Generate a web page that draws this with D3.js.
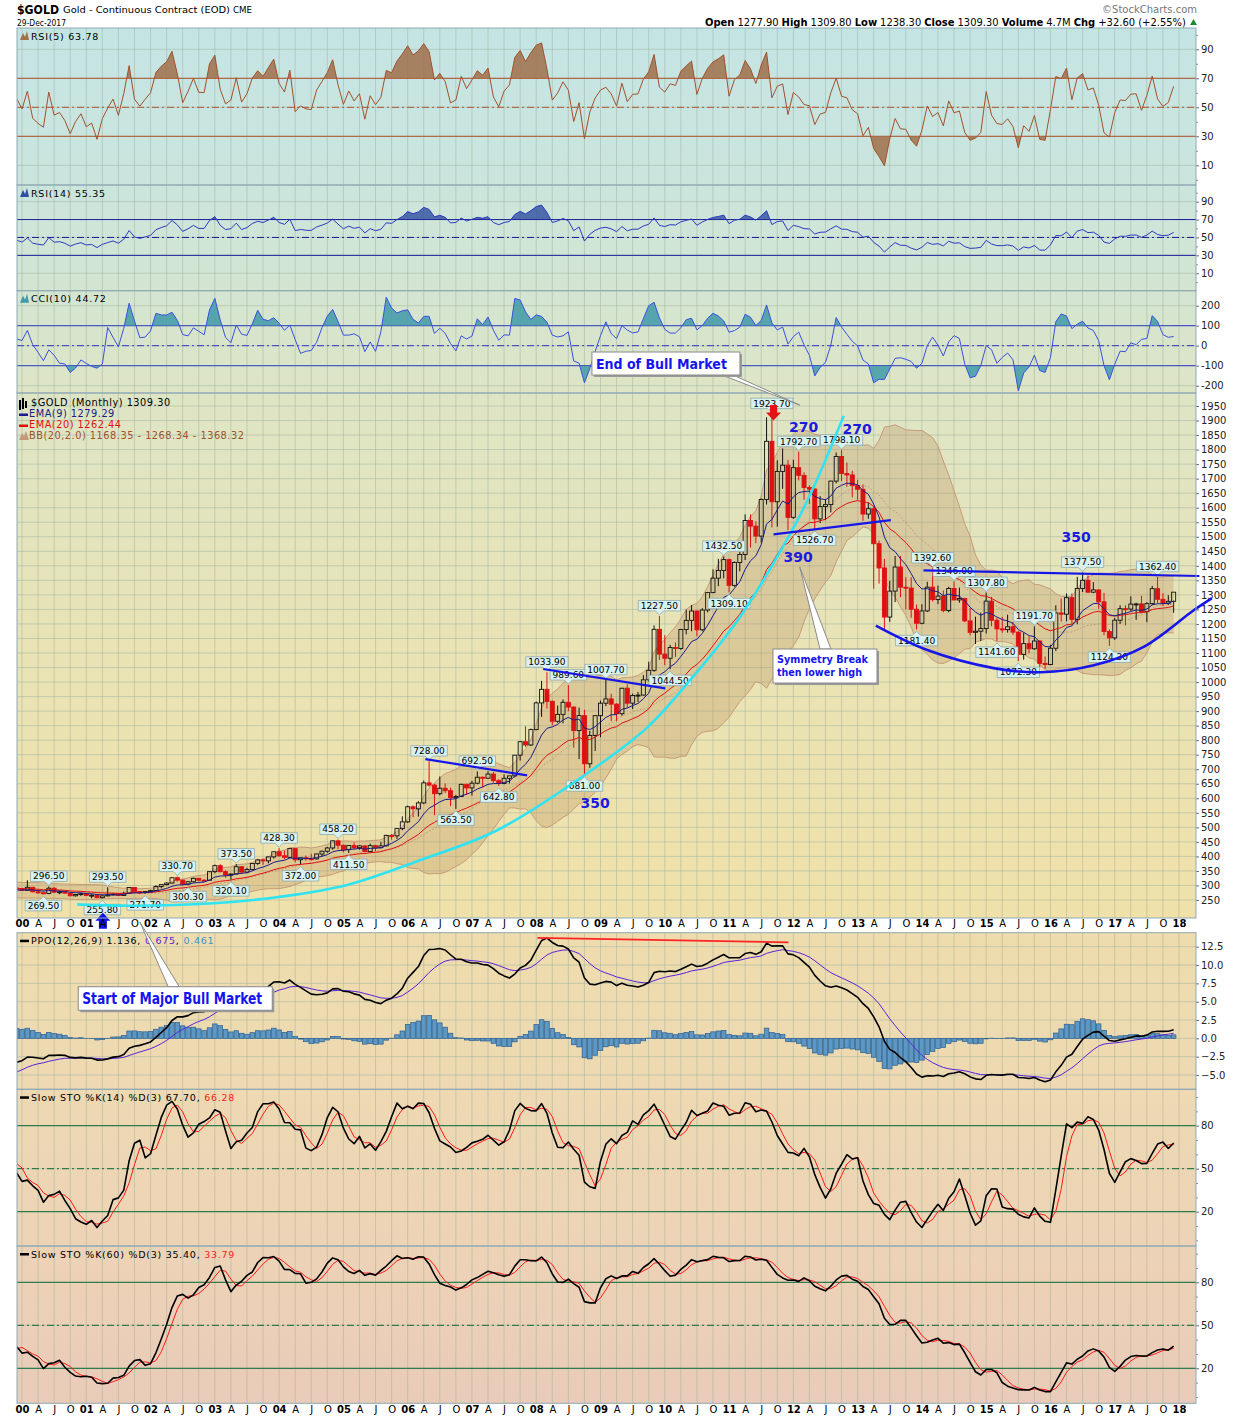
<!DOCTYPE html>
<html>
<head>
<meta charset="utf-8">
<script src="https://cdn.jsdelivr.net/npm/d3@7"></script>
<style>
  body { margin: 0; background: #fff; }
  text { font-family: "DejaVu Sans", Verdana, sans-serif; }
</style>
</head>
<body>
<div id="chart"></div>
<script>
// $GOLD monthly, Jan 1997 .. Dec 2017. 1997-1999 only warms up the indicators.
const firstYear = 1997;
const closes = [
  345.5, 358.6, 348.2, 340.2, 345.6, 334.6, 326.4, 325.4, 332.1, 311.4, 296.8, 290.2,
  304.5, 297.4, 301.0, 310.3, 293.6, 296.3, 288.9, 273.4, 293.9, 292.3, 294.7, 288.3,
  287.3, 288.0, 279.5, 286.6, 268.6, 261.5, 255.6, 254.8, 299.1, 299.1, 291.4, 288.7,
  283.3, 293.7, 278.4, 274.8, 272.3, 290.6, 276.8, 278.3, 273.6, 264.5, 269.1, 272.0,
  265.6, 266.7, 258.0, 264.0, 267.5, 270.6, 265.5, 273.0, 293.1, 279.0, 275.4, 279.0,
  282.3, 296.5, 303.0, 308.2, 326.6, 318.5, 304.7, 312.8, 324.5, 318.0, 317.9, 347.6,
  368.1, 347.5, 335.9, 339.4, 364.5, 346.0, 354.8, 375.6, 388.0, 384.7, 398.4, 416.1,
  402.2, 396.8, 426.8, 388.5, 395.2, 392.2, 391.6, 408.3, 417.8, 429.1, 453.7, 438.4,
  423.2, 437.3, 429.9, 436.3, 416.5, 437.1, 430.0, 436.4, 472.3, 470.8, 495.7, 518.9,
  570.8, 563.7, 584.0, 653.0, 645.4, 616.0, 634.6, 626.2, 602.2, 606.2, 648.2, 635.7,
  652.0, 672.4, 669.0, 683.5, 660.7, 651.2, 668.7, 677.1, 748.3, 794.8, 783.5, 836.5,
  928.2, 975.0, 933.5, 865.1, 888.7, 930.3, 914.0, 833.0, 884.5, 718.8, 816.2, 884.3,
  927.3, 942.0, 924.0, 891.2, 978.8, 927.4, 953.7, 955.2, 1007.7, 1040.4, 1181.5, 1096.2,
  1081.9, 1118.9, 1115.5, 1180.7, 1212.2, 1244.5, 1180.0, 1247.8, 1307.8, 1357.6, 1384.1, 1421.4,
  1332.8, 1411.3, 1439.0, 1556.0, 1536.6, 1502.3, 1628.3, 1828.5, 1620.4, 1724.9, 1746.4, 1566.8,
  1737.8, 1711.3, 1669.3, 1664.0, 1561.6, 1604.2, 1610.6, 1691.5, 1776.1, 1717.5, 1712.7, 1675.8,
  1663.4, 1578.1, 1596.7, 1476.1, 1392.6, 1223.7, 1313.0, 1395.8, 1326.5, 1323.6, 1250.6, 1202.3,
  1244.8, 1326.5, 1283.8, 1295.9, 1246.0, 1322.0, 1282.6, 1287.4, 1210.5, 1171.1, 1175.0, 1184.1,
  1278.5, 1212.6, 1183.1, 1180.3, 1190.3, 1171.8, 1094.9, 1132.3, 1114.5, 1141.3, 1064.3, 1060.2,
  1116.4, 1237.8, 1233.5, 1290.5, 1215.6, 1322.2, 1350.2, 1309.3, 1317.1, 1276.2, 1173.8, 1152.0,
  1212.8, 1252.6, 1251.2, 1268.3, 1268.9, 1242.3, 1269.9, 1321.4, 1284.8, 1271.1, 1277.9, 1309.3
];
const highs = [
  369, 366, 356, 350, 350, 348, 335, 330, 338, 336, 313, 300,
  306, 305, 303, 316, 312, 300, 298, 289, 301, 302, 299, 297,
  292, 290, 291, 292, 290, 270, 263, 259, 304, 339, 300, 292,
  292, 318, 295, 286, 279, 296.5, 294, 282, 280, 275, 270, 275,
  274, 270, 268, 266, 293.5, 274, 271, 279, 294, 293.4, 281, 280,
  285, 301, 304, 311, 328, 330.7, 320, 315, 327, 325, 322, 349,
  372, 373, 352, 341, 373.5, 366, 361, 376, 392, 392, 399, 417,
  428.3, 420, 428, 427, 396, 403, 409, 410, 420, 433, 455, 458.2,
  441, 439, 448, 438, 437, 444, 440, 450, 475, 477, 497, 538,
  575, 575, 590, 661, 728, 650, 675, 651, 637, 612, 650, 650,
  660, 692.5, 675, 693, 691, 666, 682, 678, 748.5, 797, 848, 840,
  933, 1004, 1033.9, 937, 919, 940, 989.6, 916, 912, 905, 832, 886,
  936, 1007.7, 960, 927, 980, 992, 960, 966, 1024, 1070, 1195, 1227.5,
  1161, 1128, 1136, 1183, 1249, 1265, 1246, 1254, 1310, 1388, 1424, 1432.5,
  1425, 1415, 1448, 1577, 1577, 1553, 1632, 1911, 1923.7, 1763, 1804, 1764,
  1765, 1792.7, 1722, 1677, 1668, 1640, 1630, 1693, 1790, 1798.1, 1755, 1727,
  1696, 1680, 1617, 1605, 1487, 1424, 1348, 1433.8, 1434, 1361, 1361, 1267,
  1268, 1345, 1392.6, 1332, 1315, 1328, 1346, 1325, 1290, 1255, 1225, 1239,
  1307.8, 1293, 1221, 1224, 1232, 1206, 1175, 1170, 1157, 1191.7, 1143, 1088,
  1128, 1264, 1287, 1305, 1305, 1362, 1377.5, 1367, 1344, 1319, 1307, 1181,
  1221, 1264, 1264, 1295, 1273, 1297, 1275, 1331, 1362.4, 1306, 1299, 1309.8
];
const lows = [
  344, 341, 346, 336, 337, 334, 318, 319, 321, 307, 294, 284,
  278, 293, 293, 298, 290, 288, 287, 272, 272, 289, 290, 286,
  284, 285, 278, 280, 268, 257, 253, 252, 255, 296, 290, 279,
  281, 283, 276, 271, 269.5, 270, 275, 270, 271, 263, 262, 264,
  263, 256, 256, 255.8, 263, 266, 264, 264, 271, 276, 270, 271.7,
  276, 282, 290, 300, 306, 313, 301, 300.3, 311, 314, 315, 317,
  342, 345, 327, 320.1, 337, 341, 342, 351, 371, 371, 376, 393,
  399, 390, 394, 380, 372, 385, 386, 389, 400, 412, 423, 425,
  414, 411.5, 424, 423, 415, 414, 418, 428, 434, 458, 460, 490,
  515, 535, 537, 580, 640, 542, 610, 618, 573, 563.5, 605, 612,
  609, 648, 637, 667, 653, 642.8, 648, 651, 672, 730, 777, 780,
  834, 880, 909, 851, 860, 858, 900, 774, 735, 681, 705, 763,
  810, 917, 866, 865, 884, 911, 907, 931, 953, 1002, 1035, 1076,
  1058, 1044.5, 1086, 1111, 1164, 1175, 1157, 1175, 1240, 1306, 1330, 1357,
  1309.1, 1328, 1381, 1420, 1463, 1478, 1480, 1611, 1532, 1535, 1665, 1523,
  1562, 1694, 1627, 1613, 1526.7, 1547, 1557, 1584, 1684, 1692, 1672, 1636,
  1627, 1555, 1562, 1321, 1339, 1180.5, 1207, 1275, 1292, 1251, 1221, 1181.4,
  1199, 1241, 1277, 1268, 1240, 1240, 1281, 1273, 1206, 1161, 1131, 1141,
  1167, 1192, 1141.6, 1170, 1170, 1162, 1072.3, 1077, 1099, 1111, 1052, 1045,
  1058, 1107, 1208, 1209, 1200, 1199, 1310, 1306, 1306, 1252, 1161, 1124.3,
  1145, 1200, 1195, 1244, 1214, 1237, 1206, 1265, 1271, 1262, 1265, 1238.3
];

// axis labels
const yearLabels = ["00","01","02","03","04","05","06","07","08","09","10","11","12","13","14","15","16","17","18"];
const quarterLetters = ["A", "J", "O"];
const priceTicks = [250,300,350,400,450,500,550,600,650,700,750,800,850,900,950,1000,1050,1100,1150,1200,
  1250,1300,1350,1400,1450,1500,1550,1600,1650,1700,1750,1800,1850,1900,1950];
const rsiTicks = [10, 30, 50, 70, 90];
const rsiMinor = [0, 20, 40, 60, 80, 100];
const cciTicks = [-200, -100, 0, 100, 200];
const ppoTicks = [-5, -2.5, 0, 2.5, 5, 7.5, 10, 12.5];
const stoTicks = [20, 50, 80];
const stoMinor = [0, 10, 30, 40, 60, 70, 90, 100];

// swing labels: month (0 = Jan 2000), text, h = above high / l = below low
const labelMonths = [5,4,16,15,23,29,31,40,39,48,52,59,61,76,81,85,89,98,102,105,109,119,121,131,132,140,145,148,153,167,170,174,180,182,186,189,198,203,212];
const labelValues = ["296.50","269.50","293.50","255.80","271.70","330.70","300.30","373.50","320.10","428.30","372.00","458.20","411.50",
  "728.00","563.50","692.50","642.80","1033.90","989.60","681.00","1007.70","1227.50","1044.50","1432.50","1309.10","1923.70",
  "1792.70","1526.70","1798.10","1181.40","1392.60","1346.00","1307.80","1141.60","1072.30","1191.70","1377.50","1124.30","1362.40"];
const labelKinds = "hlhllhlhlhlhlhlhlhhlhhlhlhhlhlhhhllhhlh".split("");

// hand-drawn annotations, in (month, price)
const cyanCurve = [[10.3,235],[20.8,230],[35.7,238.6],[48.2,261],[60.7,301.6],[74.4,387.6],[88.8,491],[105.6,687],
  [116.8,845],[124.3,997],[133.6,1213],[143.5,1513],[147.8,1671],[153.4,1916]];
const blueLines = [
  [[75.3,735],[94.3,679]],
  [[97.3,1045],[120.1,978]],
  [[140.3,1508],[162.2,1557]],
  [[168.3,1384],[219.8,1365]]
];
const blueArc = [[159.4,1194],[169,1110],[181.4,1048],[190.2,1034],[200.1,1058],[209.5,1122],[218.8,1248],[222.1,1288]];
const ppoRedLine = [[96.2,13.7],[143.1,13.1]];
const bigNumbers = [["270",145.9,1878],["270",155.9,1872],["390",144.9,1430],["350",107,584],["350",196.8,1499]];

// legend values as printed
const headerStats = [["Open","1277.90"],["High","1309.80"],["Low","1238.30"],["Close","1309.30"],["Volume","4.7M"],["Chg","+32.60 (+2.55%)"]];

const W = 1240, H = 1419, PL = 17, PR = 1196;
const off = (2000 - firstYear) * 12;
const opens = closes.map((c, j) => j ? closes[j - 1] : c);
const SANS = "Liberation Sans, Arial, sans-serif";

// ---------- indicators ----------
function sma(vals, p) {
  return vals.map((v, j) => {
    if (j < p - 1) return null;
    const w = vals.slice(j - p + 1, j + 1);
    if (w.some(u => u == null)) return null;
    return d3.mean(w);
  });
}
function ema(vals, p) {
  const out = vals.map(() => null), k = 2 / (p + 1);
  const s = vals.findIndex(v => v != null);
  if (s < 0 || s + p > vals.length) return out;
  let e = d3.mean(vals.slice(s, s + p));
  out[s + p - 1] = e;
  for (let j = s + p; j < vals.length; j++) { e = vals[j] * k + e * (1 - k); out[j] = e; }
  return out;
}
function rsi(p) {
  const out = closes.map(() => null);
  let g = 0, l = 0;
  for (let j = 1; j <= p; j++) { const d = closes[j] - closes[j - 1]; if (d > 0) g += d; else l -= d; }
  g /= p; l /= p;
  out[p] = l === 0 ? 100 : 100 - 100 / (1 + g / l);
  for (let j = p + 1; j < closes.length; j++) {
    const d = closes[j] - closes[j - 1];
    g = (g * (p - 1) + Math.max(d, 0)) / p;
    l = (l * (p - 1) + Math.max(-d, 0)) / p;
    out[j] = l === 0 ? 100 : 100 - 100 / (1 + g / l);
  }
  return out;
}
function cci(p) {
  const tp = closes.map((c, j) => (highs[j] + lows[j] + c) / 3);
  return tp.map((t, j) => {
    if (j < p - 1) return null;
    const w = tp.slice(j - p + 1, j + 1), m = d3.mean(w);
    const md = d3.mean(w, u => Math.abs(u - m));
    return (t - m) / (0.015 * md);
  });
}
function slowSto(p) {
  const fast = closes.map((c, j) => {
    const a = Math.max(0, j - p + 1);
    const hh = d3.max(highs.slice(a, j + 1)), ll = d3.min(lows.slice(a, j + 1));
    return (c - ll) / (hh - ll) * 100;
  });
  const k = sma(fast, 3);
  return { k, d: sma(k, 3) };
}

const rsi5 = rsi(5), rsi14 = rsi(14), cci10 = cci(10);
const ema9 = ema(closes, 9), ema20 = ema(closes, 20);
const bbMid = sma(closes, 20);
const bbDev = closes.map((c, j) => {
  if (j < 19) return null;
  const w = closes.slice(j - 19, j + 1), m = d3.mean(w);
  return Math.sqrt(d3.mean(w, u => (u - m) * (u - m)));
});
const bbUp = bbMid.map((m, j) => m == null ? null : m + 2 * bbDev[j]);
const bbLo = bbMid.map((m, j) => m == null ? null : m - 2 * bbDev[j]);
const e12 = ema(closes, 12), e26 = ema(closes, 26);
const ppo = closes.map((c, j) => e26[j] == null ? null : (e12[j] - e26[j]) / e26[j] * 100);
const ppoSig = ema(ppo, 9);
const ppoHist = ppo.map((v, j) => ppoSig[j] == null ? null : v - ppoSig[j]);
const sto14 = slowSto(14), sto60 = slowSto(60);

const pts = arr => arr.map((v, j) => ({ m: j - off, v })).filter(d => d.m >= -2);

// ---------- svg ----------
const svg = d3.select("#chart").append("svg").attr("width", W).attr("height", H);
const defs = svg.append("defs");
let clipN = 0;
function clipRect(x0, y0, w, h) {
  const id = "c" + (clipN++);
  defs.append("clipPath").attr("id", id).append("rect").attr("x", x0).attr("y", y0).attr("width", w).attr("height", h);
  return `url(#${id})`;
}
const grad = defs.append("linearGradient").attr("id", "bg").attr("gradientUnits", "userSpaceOnUse")
  .attr("x1", 0).attr("x2", 0).attr("y1", 28).attr("y2", 1403);
[[28,"#c4e4e4"],[185,"#cbe5dd"],[290,"#d3e5d1"],[393,"#dee5c5"],[650,"#e9e3b5"],[918,"#f0e1a9"],
 [933,"#eedcad"],[1089,"#eed9b2"],[1246,"#edd3b6"],[1403,"#e9cbb9"]].forEach(s =>
  grad.append("stop").attr("offset", (s[0] - 28) / 1375).attr("stop-color", s[1]));

const x = d3.scaleLinear().domain([-0.934, 219.17]).range([PL, PR]);
const quarterMonths = d3.range(0, 217, 3);

const P = {
  rsi5:  { top: 28,    bottom: 185,    y: d3.scaleLinear().domain([0, 100]).range([179.8, 34.8]),  ticks: rsiTicks, minor: rsiMinor },
  rsi14: { top: 185,   bottom: 290.7,  y: d3.scaleLinear().domain([0, 100]).range([282.2, 192.7]), ticks: rsiTicks, minor: rsiMinor },
  cci:   { top: 290.7, bottom: 393,    y: d3.scaleLinear().domain([-200, 200]).range([385.7, 305.7]), ticks: cciTicks, minor: [] },
  main:  { top: 393,   bottom: 918,    y: d3.scaleLinear().domain([250, 1950]).range([900, 406]),   ticks: priceTicks, minor: [] },
  ppo:   { top: 932.7, bottom: 1089.3, y: d3.scaleLinear().domain([-5, 12.5]).range([1075, 946.7]), ticks: ppoTicks, minor: [], fmt: d3.format(".1f") },
  sto14: { top: 1089.3, bottom: 1246,  y: d3.scaleLinear().domain([20, 80]).range([1211.7, 1125.7]), ticks: stoTicks, minor: stoMinor },
  sto60: { top: 1246,  bottom: 1403.3, y: d3.scaleLinear().domain([20, 80]).range([1368.3, 1282.3]), ticks: stoTicks, minor: stoMinor }
};

function buildPanel(p) {
  const g = svg.append("g");
  g.append("rect").attr("x", PL).attr("y", p.top).attr("width", PR - PL).attr("height", p.bottom - p.top).attr("fill", "url(#bg)");
  g.append("g").selectAll("line").data(quarterMonths).join("line")
    .attr("x1", d => x(d)).attr("x2", d => x(d)).attr("y1", p.top).attr("y2", p.bottom)
    .attr("stroke", "#9fb39f").attr("stroke-opacity", 0.5);
  g.append("g").selectAll("line").data(p.ticks).join("line")
    .attr("x1", PL).attr("x2", PR).attr("y1", d => p.y(d)).attr("y2", d => p.y(d))
    .attr("stroke", "#9fb39f").attr("stroke-opacity", 0.5);
  p.g = g;
  p.inner = g.append("g").attr("clip-path", clipRect(PL, p.top, PR - PL, p.bottom - p.top));
  const ax = svg.append("g").attr("transform", `translate(${PR},0)`)
    .call(d3.axisRight(p.y).tickValues(p.ticks).tickSize(3).tickPadding(2).tickFormat(p.fmt || (d => d)));
  ax.select(".domain").remove();
  ax.selectAll("text").attr("font-family", SANS).attr("font-size", 10).attr("fill", "#222");
  ax.selectAll("line").attr("stroke", "#667");
  if (p.minor.length) {
    const mx = svg.append("g").attr("transform", `translate(${PR},0)`)
      .call(d3.axisRight(p.y).tickValues(p.minor.filter(v => p.y(v) > p.top && p.y(v) < p.bottom)).tickSize(2).tickFormat(""));
    mx.select(".domain").remove();
    mx.selectAll("line").attr("stroke", "#889");
  }
}
Object.values(P).forEach(buildPanel);

function hline(p, v, color, dash) {
  p.inner.append("line").attr("x1", PL).attr("x2", PR).attr("y1", p.y(v)).attr("y2", p.y(v))
    .attr("stroke", color).attr("stroke-width", 1).attr("stroke-dasharray", dash ? "7,3,2,3" : null);
}
function drawLine(p, arr, color, width) {
  p.inner.append("path").datum(pts(arr))
    .attr("d", d3.line().defined(d => d.v != null).x(d => x(d.m)).y(d => p.y(d.v)))
    .attr("fill", "none").attr("stroke", color).attr("stroke-width", width).attr("stroke-linejoin", "round");
}
function fillBeyond(p, arr, level, above, color, op) {
  const clip = above ? clipRect(PL, p.top, PR - PL, p.y(level) - p.top) : clipRect(PL, p.y(level), PR - PL, p.bottom - p.y(level));
  p.inner.append("path").datum(pts(arr)).attr("clip-path", clip)
    .attr("d", d3.area().defined(d => d.v != null).x(d => x(d.m)).y0(p.y(level)).y1(d => p.y(d.v)))
    .attr("fill", color).attr("fill-opacity", op);
}
function title(p, parts, icon) {
  const ty = p.top + 11;
  if (icon === "dash") {
    p.g.append("rect").attr("x", 20).attr("y", ty - 4).attr("width", 9).attr("height", 2.5).attr("fill", "#000");
  } else if (icon) {
    p.g.append("path").attr("d", `M20,${ty + 1} L23,${ty - 6} L25,${ty - 2} L27,${ty - 8} L29,${ty + 1} Z`).attr("fill", icon);
  }
  const t = p.g.append("text").attr("x", 31).attr("y", ty + 0.5).attr("font-size", 9.5).attr("letter-spacing", 0.75);
  parts.forEach(([s, c]) => t.append("tspan").attr("fill", c).text(s));
}

// ---------- RSI(5) ----------
{
  const p = P.rsi5, c = "#b0532c";
  hline(p, 70, c); hline(p, 30, c); hline(p, 50, c, true);
  fillBeyond(p, rsi5, 70, true, "#a0704a", 0.85);
  fillBeyond(p, rsi5, 30, false, "#a0704a", 0.85);
  drawLine(p, rsi5, "#a0522d", 1);
  title(p, [["RSI(5) 63.78", "#000"]], "#a0704a");
}
// ---------- RSI(14) ----------
{
  const p = P.rsi14, c = "#1a1a9a";
  hline(p, 70, c); hline(p, 30, c); hline(p, 50, c, true);
  fillBeyond(p, rsi14, 70, true, "#2f4fa0", 0.8);
  fillBeyond(p, rsi14, 30, false, "#2f4fa0", 0.8);
  drawLine(p, rsi14, "#2a3ac0", 1);
  title(p, [["RSI(14) 55.35", "#000"]], "#2f4fa0");
}
// ---------- CCI(10) ----------
{
  const p = P.cci, c = "#3434c8";
  hline(p, 100, c); hline(p, -100, c); hline(p, 0, c, true);
  fillBeyond(p, cci10, 100, true, "#3f9aa8", 0.85);
  fillBeyond(p, cci10, -100, false, "#3f9aa8", 0.85);
  drawLine(p, cci10, "#3b4fe0", 1);
  title(p, [["CCI(10) 44.72", "#000"]], "#3f9aa8");
}

// ---------- price ----------
{
  const p = P.main, y = p.y;
  const band = pts(bbMid).map(d => ({ m: d.m, up: bbUp[d.m + off], lo: bbLo[d.m + off] }));
  p.inner.append("path").datum(band)
    .attr("d", d3.area().defined(d => d.up != null).x(d => x(d.m)).y0(d => y(d.lo)).y1(d => y(d.up)))
    .attr("fill", "#b48652").attr("fill-opacity", 0.27);
  drawLine(p, bbUp, "#c79a78", 1);
  drawLine(p, bbLo, "#c79a78", 1);
  p.inner.append("path").datum(pts(bbMid))
    .attr("d", d3.line().defined(d => d.v != null).x(d => x(d.m)).y(d => y(d.v)))
    .attr("fill", "none").attr("stroke", "#c39474").attr("stroke-dasharray", "1.5,2");

  const bars = d3.range(off - 1, closes.length).map(j => ({ m: j - off, o: opens[j], h: highs[j], l: lows[j], c: closes[j] }));
  const cg = p.inner.append("g").selectAll("g").data(bars).join("g");
  const col = d => d.c < d.o ? "#dd1111" : "#111";
  cg.append("line").attr("x1", d => x(d.m)).attr("x2", d => x(d.m))
    .attr("y1", d => y(d.h)).attr("y2", d => y(Math.max(d.o, d.c))).attr("stroke", col);
  cg.append("line").attr("x1", d => x(d.m)).attr("x2", d => x(d.m))
    .attr("y1", d => y(Math.min(d.o, d.c))).attr("y2", d => y(d.l)).attr("stroke", col);
  cg.append("rect").attr("x", d => x(d.m) - 2).attr("width", 4)
    .attr("y", d => y(Math.max(d.o, d.c))).attr("height", d => Math.max(1, Math.abs(y(d.o) - y(d.c))))
    .attr("fill", d => d.c < d.o ? "#dd1111" : "none").attr("stroke", col).attr("stroke-width", 0.9);

  drawLine(p, ema20, "#e01010", 1);
  drawLine(p, ema9, "#1a1a8a", 1);

  // legend
  const lg = p.g, lf = 9.8, ls = 0.5;
  lg.append("path").attr("d", "M20,400 V410 M23,398 V409 M26,401 V408").attr("stroke", "#000").attr("stroke-width", 2);
  lg.append("text").attr("x", 31).attr("y", 406).attr("font-size", lf).attr("letter-spacing", ls).text("$GOLD (Monthly) 1309.30");
  lg.append("rect").attr("x", 19).attr("y", 413.5).attr("width", 9).attr("height", 2.5).attr("fill", "#1a1a8a");
  lg.append("text").attr("x", 29).attr("y", 417).attr("font-size", lf).attr("letter-spacing", ls).attr("fill", "#1a1a8a").text("EMA(9) 1279.29");
  lg.append("rect").attr("x", 19).attr("y", 424.5).attr("width", 9).attr("height", 2.5).attr("fill", "#e01010");
  lg.append("text").attr("x", 29).attr("y", 428).attr("font-size", lf).attr("letter-spacing", ls).attr("fill", "#e01010").text("EMA(20) 1262.44");
  lg.append("path").attr("d", "M19,440 L22,433 L24,436 L26,431 L29,440 Z").attr("fill", "#c39a7a");
  lg.append("text").attr("x", 29).attr("y", 439).attr("font-size", lf).attr("letter-spacing", ls).attr("fill", "#a0522d").text("BB(20,2.0) 1168.35 - 1268.34 - 1368.32");

  // swing labels
  const lb = svg.append("g");
  labelMonths.forEach((m, i) => {
    const v = +labelValues[i], hi = labelKinds[i] === "h", cx = x(m), py = y(v);
    const gg = lb.append("g");
    const t = gg.append("text").attr("font-family", SANS).attr("font-size", 9)
      .attr("text-anchor", "middle").attr("x", cx).text(labelValues[i]);
    const w = t.node().getComputedTextLength() + 5, bh = 10.5;
    const tip = hi ? py - 1 : py + 2;
    const edge = hi ? py - 5 : py + 6;
    const far = hi ? edge - bh : edge + bh;
    gg.insert("path", "text")
      .attr("d", `M${cx - w / 2},${far} H${cx + w / 2} V${edge} H${cx + 4} L${cx},${tip} L${cx - 4},${edge} H${cx - w / 2} Z`)
      .attr("fill", "#d9f1ef").attr("stroke", "#8fa9a9").attr("stroke-width", 0.8);
    t.attr("y", (edge + far) / 2 + 3.2);
  });

  // drawn annotations
  const an = svg.append("g");
  an.append("path").datum(cyanCurve).attr("d", d3.line().x(d => x(d[0])).y(d => y(d[1])).curve(d3.curveCatmullRom))
    .attr("fill", "none").attr("stroke", "#2fe3f2").attr("stroke-width", 2.6);
  blueLines.forEach(seg => an.append("path").datum(seg).attr("d", d3.line().x(d => x(d[0])).y(d => y(d[1])))
    .attr("stroke", "#1616e8").attr("stroke-width", 2.2));
  an.append("path").datum(blueArc).attr("d", d3.line().x(d => x(d[0])).y(d => y(d[1])).curve(d3.curveCatmullRom))
    .attr("fill", "none").attr("stroke", "#1616e8").attr("stroke-width", 2.6);
  bigNumbers.forEach(([t, m, v]) => an.append("text").attr("x", x(m)).attr("y", y(v) + 5).attr("text-anchor", "middle")
    .attr("font-family", SANS).attr("font-weight", "bold").attr("font-size", 14)
    .attr("fill", "#1a1ae0").text(t));

  // arrows
  const rx = x(140.3), ry = y(1900);
  an.append("path").attr("d", `M${rx},${ry} L${rx - 7.5},${ry - 8} H${rx - 3.5} V${ry - 15.5} H${rx + 3.5} V${ry - 8} H${rx + 7.5} Z`).attr("fill", "#e31414");
  const bx = x(15.1), by = y(206);
  an.append("path").attr("d", `M${bx},${by} L${bx + 7.5},${by + 8} H${bx + 4} V${by + 16} H${bx - 4} V${by + 8} H${bx - 7.5} Z`).attr("fill", "#1010e8");
}

// ---------- PPO ----------
{
  const p = P.ppo, y = p.y;
  p.inner.append("g").selectAll("rect").data(pts(ppoHist).filter(d => d.v != null)).join("rect")
    .attr("x", d => x(d.m) - 2.3).attr("width", 4.6)
    .attr("y", d => Math.min(y(0), y(d.v))).attr("height", d => Math.abs(y(d.v) - y(0)))
    .attr("fill", "#5b98c6").attr("stroke", "#2c5d8c").attr("stroke-width", 0.7);
  drawLine(p, ppoSig, "#5a22d8", 1);
  drawLine(p, ppo, "#000", 1.6);
  svg.append("path").datum(ppoRedLine).attr("d", d3.line().x(d => x(d[0])).y(d => y(d[1])))
    .attr("stroke", "#ff2424").attr("stroke-width", 1.8);
  title(p, [["PPO(12,26,9) 1.136, ", "#000"], ["0.675", "#5a22d8"], [", ", "#000"], ["0.461", "#3a92d0"]], "dash");
}
// ---------- stochastics ----------
[["sto14", sto14, "Slow STO %K(14) %D(3) 67.70, ", "66.28"], ["sto60", sto60, "Slow STO %K(60) %D(3) 35.40, ", "33.79"]].forEach(([k, s, t1, t2]) => {
  const p = P[k], c = "#0b6b36";
  hline(p, 80, c); hline(p, 20, c); hline(p, 50, c, true);
  drawLine(p, s.d, "#ff1a1a", 1);
  drawLine(p, s.k, "#000", 1.6);
  title(p, [[t1, "#000"], [t2, "#ff1a1a"]], "dash");
});

// panel borders
Object.values(P).forEach(p => svg.append("rect").attr("x", PL).attr("y", p.top).attr("width", PR - PL)
  .attr("height", p.bottom - p.top).attr("fill", "none").attr("stroke", "#8fa9b3"));

// ---------- date axes ----------
const axisMonths = d3.range(0, 217, 3);
[918.5, 1404.5].forEach(ty => {
  const ax = svg.append("g").attr("transform", `translate(0,${ty})`)
    .call(d3.axisBottom(x).tickValues(axisMonths).tickSize(0).tickPadding(1)
      .tickFormat(m => m % 12 === 0 ? yearLabels[m / 12] : quarterLetters[(m % 12) / 3 - 1]));
  ax.select(".domain").remove();
  ax.selectAll("text").attr("font-family", "DejaVu Sans, Verdana, sans-serif").attr("font-size", 10).attr("fill", "#000")
    .attr("font-weight", m => m % 12 === 0 ? "bold" : "normal");
});

// ---------- callouts ----------
const callouts = [
  { lines: ["End of Bull Market"], lens: [131], scale: P.main.y, m: 106.4, v: 2135.8, w: 148, h: 23, fs: 14.5, side: "bottom", base: [130, 141], tip: [145.2, 1953] },
  { lines: ["Symmetry Break", "then lower high"], lens: [91, 85], scale: P.main.y, m: 140.2, v: 1113.7, w: 104, h: 34, fs: 11.3, side: "top", base: [47, 58], tip: [145.2, 1396] },
  { lines: ["Start of Major Bull Market"], lens: [180], scale: P.ppo.y, m: 10.5, v: 7.04, w: 194, h: 23.5, fs: 15, side: "top", base: [90, 101], tip: [22, 15.87] }
];
callouts.forEach(c => {
  const g = svg.append("g"), bx = x(c.m), by = c.scale(c.v);
  const ey = c.side === "top" ? by : by + c.h;
  const tx = x(c.tip[0]), ty = c.scale(c.tip[1]);
  g.append("path").attr("d", `M${bx + c.base[0]},${ey} L${tx},${ty} L${bx + c.base[1]},${ey} Z`)
    .attr("fill", "#fff").attr("stroke", "#8a8a8a").attr("stroke-width", 1);
  g.append("rect").attr("x", bx + 2).attr("y", by + 2).attr("width", c.w).attr("height", c.h).attr("fill", "#9a9a9a");
  g.append("rect").attr("x", bx).attr("y", by).attr("width", c.w).attr("height", c.h).attr("fill", "#fff").attr("stroke", "#8a8a8a");
  c.lines.forEach((s, i) => g.append("text").attr("x", bx + 4).attr("y", by + (c.lines.length > 1 ? 14 + i * 12.5 : c.h / 2 + c.fs * 0.36))
    .attr("font-family", SANS).attr("font-weight", "bold").attr("font-size", c.fs)
    .attr("textLength", c.lens[i]).attr("lengthAdjust", "spacingAndGlyphs")
    .attr("fill", "#1414f0").text(s));
});

// ---------- header ----------
function textRow(x0, y0, width, parts, fs) {
  const g = svg.append("g");
  let cx = 0;
  parts.forEach(([s, bold, color]) => {
    const t = g.append("text").attr("x", cx).attr("y", 0).attr("font-family", SANS).attr("font-size", fs)
      .attr("font-weight", bold ? "bold" : "normal").attr("fill", color || "#000").text(s);
    cx += t.node().getComputedTextLength() + fs * 0.3;
  });
  cx -= fs * 0.3;
  g.attr("transform", `translate(${x0},${y0}) scale(${width / cx},1)`);
}
svg.append("text").attr("x", 17).attr("y", 13.5).attr("font-family", SANS)
  .attr("font-weight", "bold").attr("font-size", 13).attr("textLength", 42).attr("lengthAdjust", "spacingAndGlyphs").text("$GOLD");
svg.append("text").attr("x", 63).attr("y", 13).attr("font-family", SANS)
  .attr("font-size", 9.5).attr("textLength", 167).attr("lengthAdjust", "spacingAndGlyphs").text("Gold - Continuous Contract (EOD)");
svg.append("text").attr("x", 233).attr("y", 13).attr("font-family", SANS)
  .attr("font-size", 8).attr("textLength", 19).attr("lengthAdjust", "spacingAndGlyphs").text("CME");
svg.append("text").attr("x", 17).attr("y", 25.5).attr("font-family", SANS)
  .attr("font-size", 9).attr("textLength", 49).attr("lengthAdjust", "spacingAndGlyphs").text("29-Dec-2017");
svg.append("text").attr("x", 1197).attr("y", 12.5).attr("text-anchor", "end").attr("font-family", SANS)
  .attr("font-size", 10).attr("fill", "#777").text("©StockCharts.com");
textRow(705, 25.5, 481, headerStats.flatMap(([k, v]) => [[k, true], [v, false]]), 10.5);
svg.append("path").attr("d", "M1190,25 L1193.5,19 L1197,25 Z").attr("fill", "#1a8a2a");
</script>
</body>
</html>
